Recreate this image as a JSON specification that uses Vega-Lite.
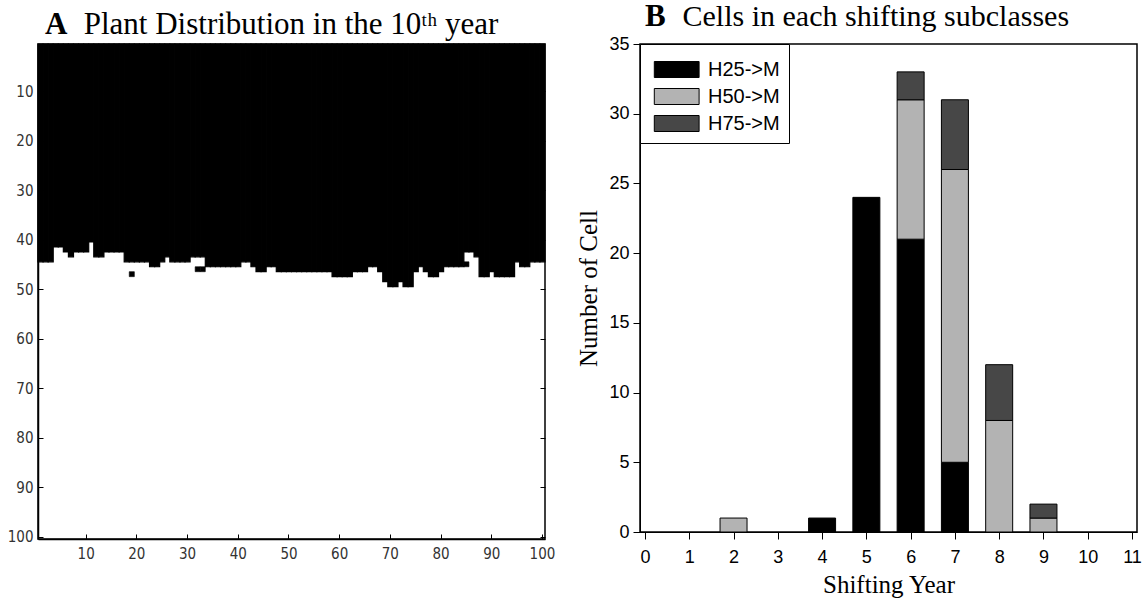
{
  "$schema": "https://vega.github.io/schema/vega-lite/v6.json",
  "background": "white",
  "padding": {"left": 6, "top": 0, "right": 0, "bottom": 0},
  "spacing": 20,
  "resolve": {"legend": {"color": "independent"}},
  "config": {
    "view": {"stroke": "black", "strokeWidth": 1.5},
    "axis": {"domainColor": "black", "tickColor": "black", "grid": false}
  },
  "datasets": {
    "columns": [
      {"col": 1, "black": 44}, {"col": 2, "black": 44}, {"col": 3, "black": 44}, {"col": 4, "black": 41}, {"col": 5, "black": 41},
      {"col": 6, "black": 42}, {"col": 7, "black": 43}, {"col": 8, "black": 42}, {"col": 9, "black": 42}, {"col": 10, "black": 42},
      {"col": 11, "black": 40}, {"col": 12, "black": 43}, {"col": 13, "black": 43}, {"col": 14, "black": 42}, {"col": 15, "black": 42},
      {"col": 16, "black": 42}, {"col": 17, "black": 42}, {"col": 18, "black": 44}, {"col": 19, "black": 44}, {"col": 20, "black": 44},
      {"col": 21, "black": 44}, {"col": 22, "black": 44}, {"col": 23, "black": 45}, {"col": 24, "black": 45}, {"col": 25, "black": 44},
      {"col": 26, "black": 43}, {"col": 27, "black": 44}, {"col": 28, "black": 44}, {"col": 29, "black": 44}, {"col": 30, "black": 44},
      {"col": 31, "black": 43}, {"col": 32, "black": 43}, {"col": 33, "black": 43}, {"col": 34, "black": 45}, {"col": 35, "black": 45},
      {"col": 36, "black": 45}, {"col": 37, "black": 45}, {"col": 38, "black": 45}, {"col": 39, "black": 45}, {"col": 40, "black": 45},
      {"col": 41, "black": 44}, {"col": 42, "black": 44}, {"col": 43, "black": 45}, {"col": 44, "black": 46}, {"col": 45, "black": 46},
      {"col": 46, "black": 45}, {"col": 47, "black": 45}, {"col": 48, "black": 46}, {"col": 49, "black": 46}, {"col": 50, "black": 46},
      {"col": 51, "black": 46}, {"col": 52, "black": 46}, {"col": 53, "black": 46}, {"col": 54, "black": 46}, {"col": 55, "black": 46},
      {"col": 56, "black": 46}, {"col": 57, "black": 46}, {"col": 58, "black": 46}, {"col": 59, "black": 47}, {"col": 60, "black": 47},
      {"col": 61, "black": 47}, {"col": 62, "black": 47}, {"col": 63, "black": 46}, {"col": 64, "black": 46}, {"col": 65, "black": 46},
      {"col": 66, "black": 45}, {"col": 67, "black": 45}, {"col": 68, "black": 46}, {"col": 69, "black": 48}, {"col": 70, "black": 49},
      {"col": 71, "black": 49}, {"col": 72, "black": 48}, {"col": 73, "black": 49}, {"col": 74, "black": 49}, {"col": 75, "black": 46},
      {"col": 76, "black": 45}, {"col": 77, "black": 46}, {"col": 78, "black": 47}, {"col": 79, "black": 47}, {"col": 80, "black": 46},
      {"col": 81, "black": 45}, {"col": 82, "black": 45}, {"col": 83, "black": 45}, {"col": 84, "black": 45}, {"col": 85, "black": 42},
      {"col": 86, "black": 42}, {"col": 87, "black": 43}, {"col": 88, "black": 47}, {"col": 89, "black": 47}, {"col": 90, "black": 46},
      {"col": 91, "black": 47}, {"col": 92, "black": 47}, {"col": 93, "black": 47}, {"col": 94, "black": 47}, {"col": 95, "black": 44},
      {"col": 96, "black": 45}, {"col": 97, "black": 45}, {"col": 98, "black": 44}, {"col": 99, "black": 44}, {"col": 100, "black": 44}
    ],
    "isolated": [
      {"col": 19, "from": 46, "to": 47},
      {"col": 32, "from": 45, "to": 46},
      {"col": 33, "from": 45, "to": 46},
      {"col": 85, "from": 44, "to": 45}
    ],
    "shifts": [
      {"year": 2, "class": "H50->M", "cells": 1},
      {"year": 4, "class": "H25->M", "cells": 1},
      {"year": 5, "class": "H25->M", "cells": 24},
      {"year": 6, "class": "H25->M", "cells": 21},
      {"year": 6, "class": "H50->M", "cells": 10},
      {"year": 6, "class": "H75->M", "cells": 2},
      {"year": 7, "class": "H25->M", "cells": 5},
      {"year": 7, "class": "H50->M", "cells": 21},
      {"year": 7, "class": "H75->M", "cells": 5},
      {"year": 8, "class": "H50->M", "cells": 8},
      {"year": 8, "class": "H75->M", "cells": 4},
      {"year": 9, "class": "H50->M", "cells": 1},
      {"year": 9, "class": "H75->M", "cells": 1}
    ]
  },
  "hconcat": [
    {
      "title": {
        "text": "A",
        "subtitle": "\u200b\u00a0\u00a0\u00a0\u00a0\u00a0Plant Distribution in the 10\u1d57\u02b0 year",
        "anchor": "start", "frame": "group", "dx": 7, "offset": 2,
        "font": "Liberation Serif", "fontSize": 31, "fontWeight": "bold", "color": "black",
        "subtitleFont": "Liberation Serif", "subtitleFontSize": 31, "subtitleFontWeight": "normal",
        "subtitleColor": "black", "subtitlePadding": -31
      },
      "width": 507,
      "height": 495,
      "resolve": {"axis": {"y": "independent"}},
      "layer": [
        {
          "data": {"name": "columns"},
          "mark": {"type": "bar", "color": "black", "stroke": "black", "strokeWidth": 1.2},
          "encoding": {
            "x": {
              "field": "col", "type": "ordinal",
              "scale": {"paddingInner": 0, "paddingOuter": 0},
              "axis": {
                "values": [10, 20, 30, 40, 50, 60, 70, 80, 90, 100],
                "labelAngle": 0, "title": null, "tickSize": -5, "labelPadding": 12,
                "labelFont": "'DejaVu Sans Condensed', 'Liberation Sans', sans-serif", "labelFontSize": 15, "labelColor": "#333333",
                "domainWidth": 1.5
              }
            },
            "y": {
              "field": "black", "type": "quantitative",
              "scale": {"domain": [0, 100], "reverse": true, "nice": false, "zero": false},
              "axis": {
                "values": [9.5, 19.5, 29.5, 39.5, 49.5, 59.5, 69.5, 79.5, 89.5, 99.5],
                "labelExpr": "'' + (datum.value + 0.5)",
                "title": null, "tickSize": -5, "labelPadding": 10,
                "labelFont": "'DejaVu Sans Condensed', 'Liberation Sans', sans-serif", "labelFontSize": 15, "labelColor": "#333333",
                "domainWidth": 1.5
              }
            },
            "y2": {"datum": 0}
          }
        },
        {
          "data": {"name": "isolated"},
          "mark": {"type": "bar", "color": "black", "stroke": "black", "strokeWidth": 0.6},
          "encoding": {
            "x": {"field": "col", "type": "ordinal"},
            "y": {
              "field": "to", "type": "quantitative",
              "axis": {
                "orient": "right", "values": [9.5, 19.5, 29.5, 39.5, 49.5, 59.5, 69.5, 79.5, 89.5, 99.5],
                "labels": false, "tickSize": -5, "domain": false, "title": null
              }
            },
            "y2": {"field": "from"}
          }
        }
      ]
    },
    {
      "title": {
        "text": "B",
        "subtitle": "\u200b\u00a0\u00a0\u00a0\u00a0\u00a0Cells in each shifting subclasses",
        "anchor": "start", "frame": "group", "dx": 5, "offset": 2,
        "font": "Liberation Serif", "fontSize": 31, "fontWeight": "bold", "color": "black",
        "subtitleFont": "Liberation Serif", "subtitleFontSize": 30, "subtitleFontWeight": "normal",
        "subtitleColor": "black", "subtitlePadding": -31
      },
      "width": 497,
      "height": 488,
      "data": {"name": "shifts"},
      "mark": {"type": "bar", "size": 27, "stroke": "black", "strokeWidth": 1},
      "encoding": {
        "x": {
          "field": "year", "type": "quantitative",
          "scale": {"domain": [0, 11], "nice": false},
          "axis": {
            "values": [0, 1, 2, 3, 4, 5, 6, 7, 8, 9, 10, 11],
            "title": "Shifting Year", "tickSize": 7, "labelPadding": 9,
            "labelFont": "Liberation Sans", "labelFontSize": 18, "labelColor": "black",
            "titleFont": "Liberation Serif", "titleFontSize": 25, "titleFontWeight": "normal", "titleColor": "black",
            "titlePadding": 6
          }
        },
        "y": {
          "field": "cells", "type": "quantitative", "stack": "zero",
          "scale": {"domain": [0, 35], "nice": false},
          "axis": {
            "values": [0, 5, 10, 15, 20, 25, 30, 35],
            "title": "Number of Cell", "tickSize": 7, "labelPadding": 4,
            "labelFont": "Liberation Sans", "labelFontSize": 18, "labelColor": "black",
            "titleFont": "Liberation Serif", "titleFontSize": 25, "titleFontWeight": "normal", "titleColor": "black",
            "titlePadding": 7
          }
        },
        "color": {
          "field": "class", "type": "nominal",
          "scale": {"domain": ["H25->M", "H50->M", "H75->M"], "range": ["#000000", "#b3b3b3", "#474747"]},
          "legend": {
            "title": null, "orient": "top-left", "offset": 0, "padding": 9,
            "strokeColor": "black", "fillColor": "white",
            "symbolType": "M-0.7,-0.5H2.1V0.5H-0.7Z", "symbolSize": 1024,
            "symbolStrokeColor": "black", "symbolStrokeWidth": 1, "symbolOpacity": 1,
            "labelFont": "Liberation Sans", "labelFontSize": 20, "labelColor": "black",
            "labelOffset": 26, "rowPadding": -10
          }
        },
        "order": {"field": "class", "sort": "ascending"}
      }
    }
  ]
}
